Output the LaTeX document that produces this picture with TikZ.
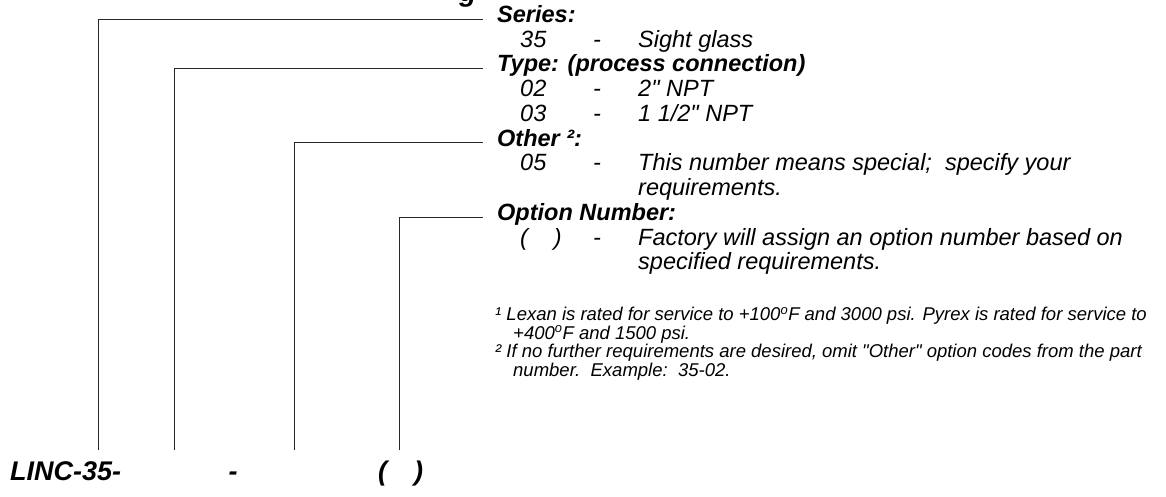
\documentclass[tikz,border=0pt]{standalone}
\usepackage{fontspec}
\setmainfont{Liberation Sans}[Ligatures=TeXOff]
\begin{document}
\begin{tikzpicture}[x=1pt,y=-1pt,
  txt/.style={anchor=west, inner sep=0pt, text height=0.72em, text depth=0pt},
  hdr/.style={txt, font=\fontsize{23.5}{25}\selectfont\bfseries\itshape},
  body/.style={txt, font=\fontsize{23.5}{25}\selectfont\itshape},
  fnote/.style={txt, font=\fontsize{18.5}{20}\selectfont\itshape},
  pn/.style={txt, font=\fontsize{27}{30}\selectfont\bfseries\itshape},
  lead/.style={line width=0.8pt, draw=black!85}]
\useasboundingbox (0,0) rectangle (1166,497);
\begin{scope}
  \clip (0,0) rectangle (1166,497);
  \node[anchor=base, inner sep=0pt, font=\fontsize{28}{30}\selectfont\bfseries\itshape] (ttl) at (468,2) {g};
\end{scope}
% headers and entries
\node[hdr] (hSeries) at (497,19) {Series:};
\node[body] (c35) at (520,43.5) {35};
\node[body] (d35) at (593,43.5) {-};
\node[body] (t35) at (638,43.5) {Sight glass};
\node[hdr] (hType) at (497,68) {Type: (process connection)};
\node[body] (c02) at (520,93) {02};
\node[body] (d02) at (593,93) {-};
\node[body] (t02) at (638,93) {2" NPT};
\node[body] (c03) at (520,118) {03};
\node[body] (d03) at (593,118) {-};
\node[body] (t03) at (638,118) {1 1/2" NPT};
\node[hdr] (hOther) at (497,142.5) {Other ²:};
\node[body] (c05) at (520,167) {05};
\node[body] (d05) at (593,167) {-};
\node[body] (t05) at (638,167) {This number means special;\ \ specify your};
\node[body] (t05b) at (638,192) {requirements.};
\node[hdr] (hOpt) at (497,217) {Option Number:};
\node[body] (cOpt) at (520,241.5) {(\hspace{1.1em})};
\node[body] (dOpt) at (593,241.5) {-};
\node[body] (tOpt) at (638,241.5) {Factory will assign an option number based on};
\node[body] (tOptb) at (638,266) {specified requirements.};
% footnotes
\node[fnote] (f1) at (495,317) {¹ Lexan is rated for service to +100\textsuperscript{o}F and 3000 psi. Pyrex is rated for service to};
\node[fnote] (f1b) at (513,335.5) {+400\textsuperscript{o}F and 1500 psi.};
\node[fnote] (f2) at (495,354) {² If no further requirements are desired, omit "Other" option codes from the part};
\node[fnote] (f2b) at (513,372.5) {number.\ \ Example:\ \ 35-02.};
% part number
\node[pn] (pnA) at (10,477) {LINC-35-};
\node[pn, anchor=center] (pnB) at (233,477) {-};
\node[pn] (pnC) at (378,477) {(\hspace{1em})};
% leaders
\coordinate (b1) at (98,450);
\coordinate (b2) at (174,450);
\coordinate (b3) at (294,450);
\coordinate (b4) at (399,450);
\draw[lead] (b1) |- ([xshift=-14pt]hSeries.west);
\draw[lead] (b2) |- ([xshift=-14pt]hType.west);
\draw[lead] (b3) |- ([xshift=-14pt]hOther.west);
\draw[lead] (b4) |- ([xshift=-14pt]hOpt.west);
\end{tikzpicture}
\end{document}
